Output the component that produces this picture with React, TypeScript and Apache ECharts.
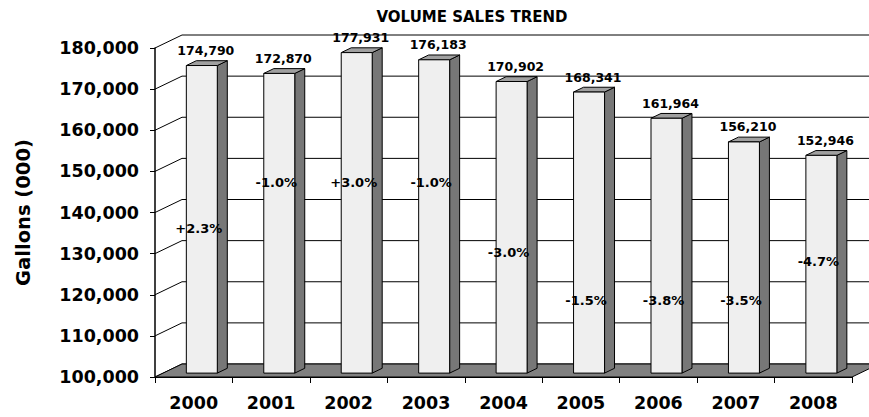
import React, { useEffect, useRef } from "react";
import * as echarts from "echarts";

const years = ["2000", "2001", "2002", "2003", "2004", "2005", "2006", "2007", "2008"];
const volumes = [174790, 172870, 177931, 176183, 170902, 168341, 161964, 156210, 152946];
const changeLabels = ["+2.3%", "-1.0%", "+3.0%", "-1.0%", "-3.0%", "-1.5%", "-3.8%", "-3.5%", "-4.7%"];
// anchor level (in axis units) of each change label
const changeLevels = [136000, 147400, 147400, 147400, 130200, 118500, 118500, 118500, 128000];
const yTicks = [100000, 110000, 120000, 130000, 140000, 150000, 160000, 170000, 180000];
const yMin = 100000;
const yMax = 180000;
const yStep = 10000;

const FONT = "'Comic Sans MS', 'DejaVu Sans', sans-serif";
const DX = 27;
const DY = -13;
const FRONT = 0.3;
const BACK = 0.67;

export default function App() {
  const ref = useRef<HTMLDivElement>(null);
  useEffect(() => {
    document.body.style.margin = "0";
    const chart = echarts.init(ref.current as HTMLDivElement, undefined, { renderer: "svg" });

    const gridLines = (params: any, api: any) => {
      const cs = params.coordSys;
      const p = api.coord([0, api.value(0)]);
      const x0 = cs.x;
      return {
        type: "polyline",
        shape: {
          points: [
            [x0, p[1]],
            [x0 + DX, p[1] + DY],
            [x0 + cs.width + DX + 20, p[1] + DY],
          ],
        },
        style: { stroke: "#000", lineWidth: 1, fill: "none" },
      };
    };

    const floor = (params: any) => {
      const cs = params.coordSys;
      const yb = cs.y + cs.height;
      return {
        type: "polygon",
        shape: {
          points: [
            [cs.x, yb],
            [cs.x + cs.width, yb],
            [cs.x + cs.width + DX, yb + DY],
            [cs.x + DX, yb + DY],
          ],
        },
        style: { fill: "#808080", stroke: "#000", lineWidth: 1 },
      };
    };

    const bars = (params: any, api: any) => {
      const idx = api.value(0);
      const v = api.value(1);
      const c = api.coord([idx, v]);
      const b = api.coord([idx, yMin]);
      const bw = api.size([1, 0])[0] * 0.4;
      const x0 = c[0] - bw / 2 + DX * FRONT;
      const x1 = x0 + bw;
      const yt = c[1] + DY * FRONT;
      const yb = b[1] + DY * FRONT;
      const dx = DX * (BACK - FRONT);
      const dy = DY * (BACK - FRONT);
      const st = { stroke: "#000", lineWidth: 1 };
      return {
        type: "group",
        children: [
          {
            type: "polygon",
            shape: { points: [[x1, yt], [x1 + dx, yt + dy], [x1 + dx, yb + dy], [x1, yb]] },
            style: { ...st, fill: "#777777" },
          },
          {
            type: "polygon",
            shape: { points: [[x0, yt], [x1, yt], [x1 + dx, yt + dy], [x0 + dx, yt + dy]] },
            style: { ...st, fill: "#a0a0a0" },
          },
          {
            type: "polygon",
            shape: { points: [[x0, yt], [x1, yt], [x1, yb], [x0, yb]] },
            style: { ...st, fill: "#efefef" },
          },
        ],
      };
    };

    const valueLabels = (params: any, api: any) => {
      const idx = api.value(0);
      const v = api.value(1);
      const c = api.coord([idx, v]);
      return {
        type: "text",
        style: {
          text: echarts.format.addCommas(v),
          x: c[0] + DX * FRONT + 4,
          y: c[1] + DY * FRONT - 15,
          align: "center",
          verticalAlign: "middle",
          fill: "#000",
          fontSize: 12.5,
          fontWeight: "bold",
          fontFamily: FONT,
        },
      };
    };

    const changeText = (params: any, api: any) => {
      const idx = api.value(0);
      const lvl = api.value(1);
      const c = api.coord([idx, lvl]);
      return {
        type: "text",
        style: {
          text: changeLabels[idx],
          x: c[0] + DX * FRONT - 3,
          y: c[1],
          align: "center",
          verticalAlign: "middle",
          fill: "#000",
          fontSize: 13,
          fontWeight: "bold",
          fontFamily: FONT,
        },
      };
    };

    chart.setOption({
      animation: false,
      title: {
        text: "VOLUME SALES TREND",
        left: 467,
        textAlign: "center",
        top: 4,
        textStyle: { fontSize: 15, fontWeight: "bold", fontFamily: FONT, color: "#000" },
      },
      grid: { left: 155, right: 17, top: 48, bottom: 40, containLabel: false },
      xAxis: {
        type: "category",
        data: years,
        axisLine: { show: true, lineStyle: { color: "#000", width: 1 } },
        axisTick: { show: true, length: 6, lineStyle: { color: "#000" } },
        axisLabel: { color: "#000", fontSize: 17.5, fontWeight: "bold", fontFamily: FONT, margin: 17 },
        splitLine: { show: false },
      },
      yAxis: {
        type: "value",
        min: yMin,
        max: yMax,
        interval: yStep,
        name: "Gallons (000)",
        nameLocation: "middle",
        nameRotate: 90,
        nameGap: 122,
        nameTextStyle: { fontSize: 19.5, fontWeight: "bold", fontFamily: FONT, color: "#000" },
        axisLine: { show: true, lineStyle: { color: "#000", width: 1.5 } },
        axisTick: { show: true, length: 5, lineStyle: { color: "#000" } },
        axisLabel: {
          color: "#000",
          fontSize: 17.5,
          fontWeight: "bold",
          fontFamily: FONT,
          margin: 16,
          formatter: (v: number) => echarts.format.addCommas(v),
        },
        splitLine: { show: false },
      },
      series: [
        {
          type: "custom",
          renderItem: gridLines,
          data: yTicks.map((t) => [t]),
          encode: { y: 0 },
          z: 1,
          silent: true,
        },
        {
          type: "custom",
          renderItem: floor,
          data: [[0, yMin]],
          z: 2,
          silent: true,
        },
        {
          type: "custom",
          renderItem: bars,
          data: volumes.map((v, i) => [i, v]),
          z: 3,
        },
        {
          type: "custom",
          renderItem: valueLabels,
          data: volumes.map((v, i) => [i, v]),
          z: 4,
          silent: true,
        },
        {
          type: "custom",
          renderItem: changeText,
          data: changeLevels.map((v, i) => [i, v]),
          z: 4,
          silent: true,
        },
      ],
    });
    return () => chart.dispose();
  }, []);
  return <div ref={ref} style={{ width: 869, height: 417 }} />;
}
